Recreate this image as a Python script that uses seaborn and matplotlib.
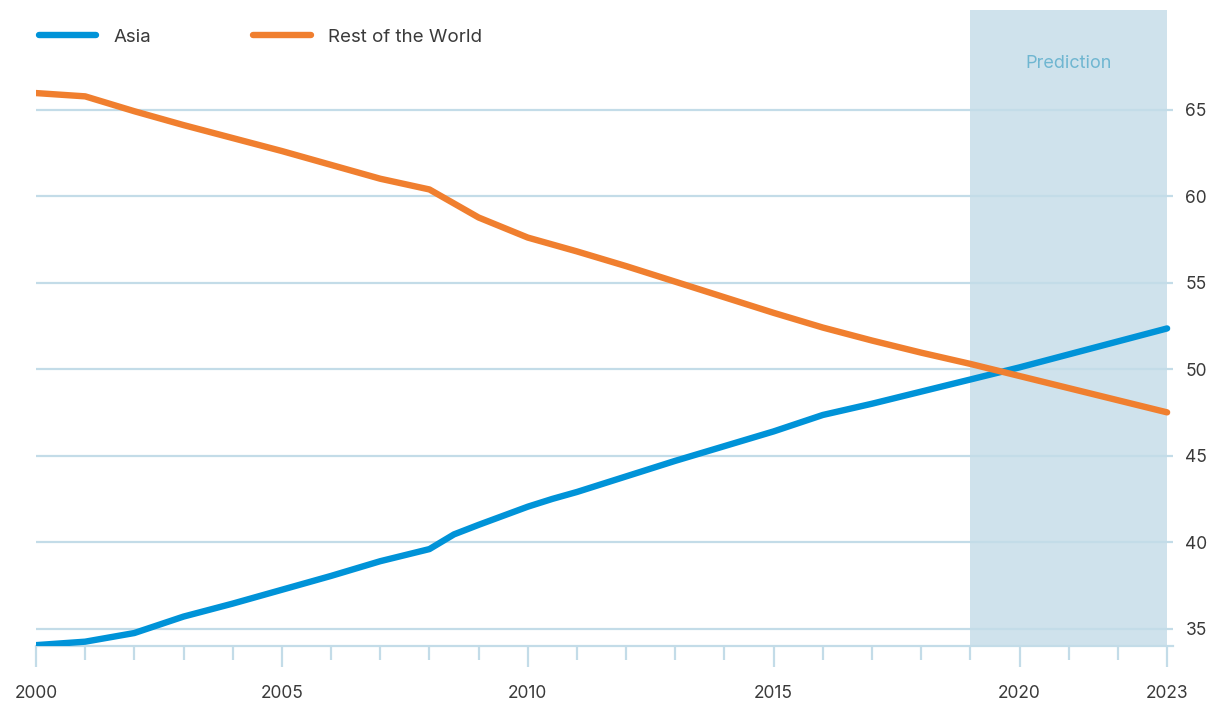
import matplotlib
matplotlib.use("Agg")
import matplotlib.pyplot as plt
from matplotlib.lines import Line2D
import numpy as np
import pandas as pd
import seaborn as sns

# Share of the total (%) by region, 2000-2023 (2019 onwards projected)
years = [2000, 2001, 2002, 2003, 2004, 2005, 2006, 2007, 2008, 2008.5, 2009,
         2010, 2010.5, 2011, 2012, 2013, 2014, 2015, 2016, 2017, 2018, 2019,
         2020, 2021, 2022, 2023]
asia = [34.05, 34.25, 34.75, 35.7, 36.45, 37.25, 38.05, 38.9, 39.6, 40.45, 41.0,
        42.05, 42.5, 42.9, 43.8, 44.7, 45.55, 46.4, 47.35, 48.0, 48.7, 49.4,
        50.1, 50.85, 51.6, 52.35]
rest_of_world = [65.95, 65.76, 64.9, 64.1, 63.35, 62.6, 61.8, 61.0, 60.38, 59.57,
                 58.76, 57.6, 57.2, 56.8, 55.95, 55.05, 54.15, 53.25, 52.4, 51.65,
                 50.95, 50.3, 49.6, 48.9, 48.2, 47.5]
series_names = ["Asia", "Rest of the World"]
series_colors = ["#0093d8", "#f07f2f"]

prediction_start, prediction_end = 2019, 2023
prediction_label = "Prediction"

x_major = [2000, 2005, 2010, 2015, 2020, 2023]
x_minor = list(range(2000, 2024))
y_ticks = [35, 40, 45, 50, 55, 60, 65]

df = pd.DataFrame({
    "year": years * 2,
    "share": asia + rest_of_world,
    "region": [series_names[0]] * len(years) + [series_names[1]] * len(years),
})

sns.set_theme(style="white")
plt.rcParams["font.family"] = ["Inter", "DejaVu Sans"]

W, H = 1220, 704
fig = plt.figure(figsize=(W / 100, H / 100), dpi=100)
ax = fig.add_axes([36 / W, 1 - 646 / H, (1173 - 36) / W, (646 - 10) / H])

grid_col = "#c3dce8"
text_col = "#3a3a3a"
fs = 12.5
legend_fs = 13.5

ax.axvspan(prediction_start, prediction_end, color="#cfe2ec", lw=0, zorder=0)

for y in y_ticks:
    ax.axhline(y, color=grid_col, lw=1.6, zorder=1)

sns.lineplot(data=df, x="year", y="share", hue="region",
             palette=dict(zip(series_names, series_colors)),
             linewidth=4.6, ax=ax, legend=False, zorder=3,
             solid_capstyle="round", solid_joinstyle="round")

ax.set_xlim(2000, 2023.12)
ax.set_ylim(34.0, 70.75)

# y labels on the right without tick marks
ax.yaxis.tick_right()
ax.set_yticks(y_ticks)
ax.tick_params(axis="y", length=0, pad=9, labelsize=fs, labelcolor=text_col)

# x axis: long ticks at labelled years, short ticks every year
ax.set_xticks(x_major)
ax.set_xticklabels([str(v) for v in x_major])
ax.set_xticks([v for v in x_minor if v not in x_major], minor=True)
ax.tick_params(axis="x", which="major", length=15, width=1.6, color=grid_col,
               pad=13, labelsize=fs, labelcolor=text_col, direction="out",
               bottom=True)
ax.tick_params(axis="x", which="minor", length=10, width=1.6, color=grid_col,
               direction="out", bottom=True)

for side in ["top", "left", "right"]:
    ax.spines[side].set_visible(False)
ax.spines["bottom"].set_color(grid_col)
ax.spines["bottom"].set_linewidth(1.6)
ax.set_xlabel("")
ax.set_ylabel("")

ax.text((prediction_start + prediction_end) / 2, 67.65, prediction_label,
        ha="center", va="center", fontsize=fs + 0.5, color="#6fb6d1")

handles = [Line2D([0], [0], color=c, lw=4.6, solid_capstyle="round")
           for c in series_colors]
fig.legend(handles, series_names, loc="center left",
           bbox_to_anchor=(31 / W, 1 - 37 / H), ncol=2, frameon=False,
           fontsize=legend_fs, labelcolor=text_col, handlelength=3.05,
           handletextpad=0.95, columnspacing=5.45, borderaxespad=0)

fig.savefig("out.png", dpi=100)
